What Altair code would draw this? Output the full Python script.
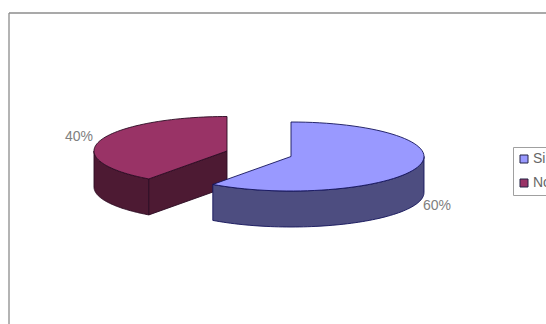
import math
import altair as alt

# Slice values, clockwise from twelve o'clock, and their styling
categories = ["Si", "No"]
shares = [60, 40]
top_colors = ["#9999ff", "#993366"]
wall_colors = ["#4d4d80", "#4d1a33"]
edge_colors = ["#14145a", "#2b0b22"]
centers = [(291.0, 156.5), (227.0, 151.0)]

RX, RY, DEPTH = 133.0, 34.5, 36.0


def rim(cx, cy, start, stop, drop=0.0, steps=70):
    """Points along the tilted ellipse, angles in degrees clockwise from the top."""
    out = []
    for i in range(steps + 1):
        a = math.radians(start + (stop - start) * i / steps)
        out.append([cx + RX * math.sin(a), cy - RY * math.cos(a) + drop])
    return out


def feature(points, fill, edge):
    ring = points + [points[0]]
    return {
        "type": "Feature",
        "geometry": {"type": "Polygon", "coordinates": [ring]},
        "properties": {"fill": fill, "edge": edge},
    }


# Each slice is a list of faces: outer wall, cut face, then the top surface
faces_by_slice = []
angle = 0.0
for idx, share in enumerate(shares):
    start, stop = angle, angle + share * 3.6
    angle = stop
    cx, cy = centers[idx]
    fill_wall, fill_top, edge = wall_colors[idx], top_colors[idx], edge_colors[idx]
    faces = []
    # Outer wall: the part of the rim that faces the viewer (90 to 270 degrees)
    lo, hi = max(start, 90.0), min(stop, 270.0)
    upper = rim(cx, cy, lo, hi)
    lower = rim(cx, cy, lo, hi, DEPTH)
    faces.append(feature(upper + lower[::-1], fill_wall, edge))
    # Cut face along a radial edge that looks toward the viewer
    if 90.0 < start < 270.0:
        pt = rim(cx, cy, start, start, steps=1)[0]
        faces.append(feature([[cx, cy], pt, [pt[0], pt[1] + DEPTH], [cx, cy + DEPTH]], fill_wall, edge))
    faces.append(feature([[cx, cy]] + rim(cx, cy, start, stop), fill_top, edge))
    faces_by_slice.append(faces)

# The red slice sits behind the blue one
draw_order = faces_by_slice[1] + faces_by_slice[0]

slices = (
    alt.Chart(alt.Data(values=draw_order))
    .mark_geoshape(strokeWidth=0.9)
    .encode(
        fill=alt.Fill("properties.fill:N", scale=None),
        stroke=alt.Stroke("properties.edge:N", scale=None),
    )
    .project(type="identity", scale=1, translate=[0, 0])
)

# Invisible carrier for the legend swatches
legend_carrier = (
    alt.Chart(alt.Data(values=[{"name": c} for c in categories]))
    .mark_square(opacity=0)
    .encode(
        x=alt.value(-20),
        y=alt.value(-20),
        color=alt.Color(
            "name:N",
            scale=alt.Scale(domain=categories, range=top_colors),
            legend=alt.Legend(
                title=None, orient="none", legendX=513, legendY=147,
                strokeColor="#a0a0a0", padding=5, symbolType="square",
                symbolSize=64, symbolOpacity=1, symbolStrokeWidth=1, symbolStrokeColor="#222244",
                labelFont="Liberation Sans", labelFontSize=14, labelColor="#666666",
                rowPadding=10, labelOffset=2, labelLimit=60, symbolOffset=-1,
            ),
        ),
    )
)

frame_top = alt.Chart(alt.Data(values=[{"a": 1}])).mark_rule(color="#8c8c8c", strokeWidth=1.3).encode(
    x=alt.value(9), x2=alt.value(546), y=alt.value(13))
frame_left = alt.Chart(alt.Data(values=[{"a": 1}])).mark_rule(color="#8c8c8c", strokeWidth=1.3).encode(
    x=alt.value(9), y=alt.value(13), y2=alt.value(324))

label_rows = [
    {"text": f"{shares[0]}%", "px": 437, "py": 206},
    {"text": f"{shares[1]}%", "px": 79, "py": 137},
]
labels = (
    alt.Chart(alt.Data(values=label_rows))
    .mark_text(font="Liberation Sans", fontSize=14, color="#808080", align="center", baseline="middle")
    .encode(
        text="text:N",
        x=alt.X("px:Q", scale=alt.Scale(domain=[0, 546], range=[0, 546]), axis=None),
        y=alt.Y("py:Q", scale=alt.Scale(domain=[0, 324], range=[0, 324]), axis=None),
    )
)

chart = (
    alt.layer(frame_top, frame_left, slices, labels, legend_carrier)
    .resolve_scale(x="independent", y="independent")
    .properties(
        width=546, height=324, padding=0,
        autosize=alt.AutoSizeParams(type="none"),
        background="white",
    )
    .configure_view(stroke=None)
)

chart.save("out.html", embed_options={"renderer": "svg", "actions": False})
